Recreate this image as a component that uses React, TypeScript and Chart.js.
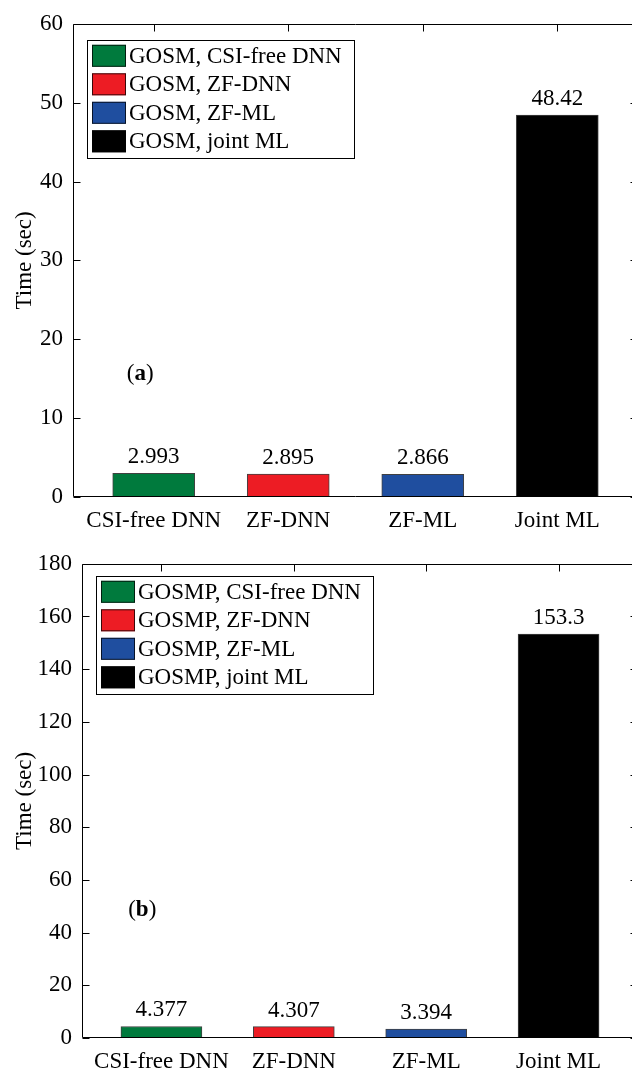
import React, { useEffect, useRef } from "react";
import { Chart, registerables } from "chart.js";

Chart.register(...registerables);

// ---------- data ----------
const categories = ["CSI-free DNN", "ZF-DNN", "ZF-ML", "Joint ML"];
const timesGOSM = [2.993, 2.895, 2.866, 48.42];
const timesGOSMP = [4.377, 4.307, 3.394, 153.3];
const legendGOSM = ["GOSM, CSI-free DNN", "GOSM, ZF-DNN", "GOSM, ZF-ML", "GOSM, joint ML"];
const legendGOSMP = ["GOSMP, CSI-free DNN", "GOSMP, ZF-DNN", "GOSMP, ZF-ML", "GOSMP, joint ML"];
const yTicksA = [0, 10, 20, 30, 40, 50, 60];
const yTicksB = [0, 20, 40, 60, 80, 100, 120, 140, 160, 180];
const barColors = ["#007A3D", "#ED1C24", "#1F4E9F", "#000000"];

const FONT = "'Liberation Serif', 'Times New Roman', serif";
const FS = 23;
const CANVAS_W = 660;

type Panel = {
  values: number[];
  legend: string[];
  yTicks: number[];
  tag: string;
  tagX: number;
  tagY: number;
  height: number;
  padTop: number;
  padRight: number;
  yWidth: number;
  xHeight: number;
  barThickness: number;
  legendDx: number;
  legendDy: number;
};

const panelA: Panel = {
  values: timesGOSM,
  legend: legendGOSM,
  yTicks: yTicksA,
  tag: "a",
  tagX: 0.9,
  tagY: 15.75,
  height: 540,
  padTop: 17,
  padRight: 22,
  yWidth: 73,
  xHeight: 43,
  barThickness: 82,
  legendDx: 14,
  legendDy: 16,
};

const panelB: Panel = {
  values: timesGOSMP,
  legend: legendGOSMP,
  yTicks: yTicksB,
  tag: "b",
  tagX: 0.855,
  tagY: 49.3,
  height: 534,
  padTop: 21,
  padRight: 22,
  yWidth: 82,
  xHeight: 36,
  barThickness: 81,
  legendDx: 14,
  legendDy: 12,
};

function makeChart(canvas: HTMLCanvasElement, p: Panel) {
  const TICK = 7;
  const decor = {
    id: "matlabDecor",
    afterDatasetsDraw(chart: any) {
      const ctx = chart.ctx as CanvasRenderingContext2D;
      const { left, right, top, bottom } = chart.chartArea;
      const xs = chart.scales.x;
      const ys = chart.scales.y;
      ctx.save();
      // axes box
      ctx.strokeStyle = "#000";
      ctx.lineWidth = 1;
      const L = Math.round(left) + 0.5;
      const R = Math.round(right) - 0.5;
      const T = Math.round(top) + 0.5;
      const B = Math.round(bottom) - 0.5;
      ctx.beginPath();
      ctx.rect(L, T, R - L, B - T);
      ys.ticks.forEach((t: any) => {
        const py = Math.round(ys.getPixelForValue(t.value)) + 0.5;
        ctx.moveTo(L, py);
        ctx.lineTo(L + TICK, py);
        ctx.moveTo(R, py);
        ctx.lineTo(R - TICK, py);
      });
      xs.ticks.forEach((t: any) => {
        const px = Math.round(xs.getPixelForValue(t.value)) + 0.5;
        ctx.moveTo(px, T);
        ctx.lineTo(px, T + TICK);
      });
      ctx.stroke();

      // value labels
      ctx.fillStyle = "#000";
      ctx.font = `${FS}px ${FONT}`;
      ctx.textAlign = "center";
      ctx.textBaseline = "alphabetic";
      chart.data.datasets.forEach((ds: any, i: number) => {
        const meta = chart.getDatasetMeta(i);
        meta.data.forEach((el: any, j: number) => {
          ctx.fillText(String(ds.data[j].y), el.x, el.y - 10);
        });
      });

      // legend
      ctx.textAlign = "left";
      ctx.textBaseline = "middle";
      const lx = left + p.legendDx;
      const ly = top + p.legendDy;
      const swX = lx + 5;
      const swW = 34;
      const swH = 22;
      const pitch = 28.5;
      const textX = swX + swW + 3;
      let maxW = 0;
      p.legend.forEach((s) => {
        maxW = Math.max(maxW, ctx.measureText(s).width);
      });
      const boxW = textX - lx + maxW + 12;
      const boxH = p.legend.length * pitch + 4;
      ctx.fillStyle = "#fff";
      ctx.fillRect(lx, ly, boxW, boxH);
      ctx.strokeStyle = "#000";
      ctx.lineWidth = 1;
      ctx.strokeRect(Math.round(lx) + 0.5, Math.round(ly) + 0.5, Math.round(boxW), Math.round(boxH));
      p.legend.forEach((s, i) => {
        const sy = ly + 5 + i * pitch;
        ctx.fillStyle = barColors[i];
        ctx.fillRect(swX, sy, swW, swH);
        ctx.strokeStyle = "rgba(0,0,0,0.75)";
        ctx.strokeRect(swX + 0.5, sy + 0.5, swW - 1, swH - 1);
        ctx.fillStyle = "#000";
        ctx.fillText(s, textX, sy + swH / 2 + 1);
      });

      // panel tag "(a)" with bold letter
      const cx = xs.getPixelForValue(p.tagX);
      const cy = ys.getPixelForValue(p.tagY);
      const normal = `${FS}px ${FONT}`;
      const bold = `bold ${FS}px ${FONT}`;
      ctx.font = normal;
      const wp = ctx.measureText("(").width;
      const wq = ctx.measureText(")").width;
      ctx.font = bold;
      const wl = ctx.measureText(p.tag).width;
      const x0 = cx - (wp + wl + wq) / 2;
      ctx.textBaseline = "alphabetic";
      ctx.fillStyle = "#000";
      ctx.font = normal;
      ctx.fillText("(", x0, cy + 7.5);
      ctx.font = bold;
      ctx.fillText(p.tag, x0 + wp, cy + 7.5);
      ctx.font = normal;
      ctx.fillText(")", x0 + wp + wl, cy + 7.5);
      ctx.restore();
    },
  };

  return new Chart(canvas, {
    type: "bar",
    data: {
      datasets: categories.map((_, i) => ({
        label: p.legend[i],
        data: [{ x: i + 1, y: p.values[i] }],
        backgroundColor: barColors[i],
        borderColor: "rgba(0,0,0,0.75)",
        borderWidth: 1,
        borderSkipped: false,
        barThickness: p.barThickness,
        grouped: false,
      })),
    },
    options: {
      responsive: false,
      maintainAspectRatio: false,
      animation: false,
      layout: { padding: { top: p.padTop, right: p.padRight, left: 0, bottom: 0 } },
      plugins: { legend: { display: false }, tooltip: { enabled: false } },
      scales: {
        x: {
          type: "linear",
          min: 0.4,
          max: 4.6,
          offset: false,
          grid: { display: false, drawTicks: false },
          border: { display: false },
          afterBuildTicks: (scale: any) => {
            scale.ticks = categories.map((_, i) => ({ value: i + 1 }));
          },
          afterFit: (scale: any) => {
            scale.height = p.xHeight;
          },
          ticks: {
            autoSkip: false,
            maxRotation: 0,
            minRotation: 0,
            padding: 10,
            color: "#000",
            font: { family: FONT, size: FS },
            callback: (v: any) => categories[Math.round(Number(v)) - 1] ?? "",
          },
        },
        y: {
          type: "linear",
          min: 0,
          max: p.yTicks[p.yTicks.length - 1],
          grid: { display: false, drawTicks: false },
          border: { display: false },
          afterBuildTicks: (scale: any) => {
            scale.ticks = p.yTicks.map((v) => ({ value: v }));
          },
          afterFit: (scale: any) => {
            scale.width = p.yWidth;
          },
          ticks: {
            padding: 10,
            color: "#000",
            font: { family: FONT, size: FS },
            callback: (v: any) => String(v),
          },
          title: {
            display: true,
            text: "Time (sec)",
            color: "#000",
            font: { family: FONT, size: FS },
            padding: { top: 11, bottom: 0 },
          },
        },
      },
    } as any,
    plugins: [decor],
  } as any);
}

function Panel({ p }: { p: Panel }) {
  const ref = useRef<HTMLCanvasElement | null>(null);
  useEffect(() => {
    if (!ref.current) return;
    const chart = makeChart(ref.current, p);
    return () => chart.destroy();
  }, [p]);
  return (
    <canvas
      ref={ref}
      width={CANVAS_W}
      height={p.height}
      style={{ display: "block", width: CANVAS_W, height: p.height }}
    />
  );
}

export default function App() {
  return (
    <div
      style={{
        position: "absolute",
        left: 0,
        top: 0,
        width: 632,
        height: 1074,
        overflow: "hidden",
        background: "#fff",
      }}
    >
      <Panel p={panelA} />
      <Panel p={panelB} />
    </div>
  );
}
